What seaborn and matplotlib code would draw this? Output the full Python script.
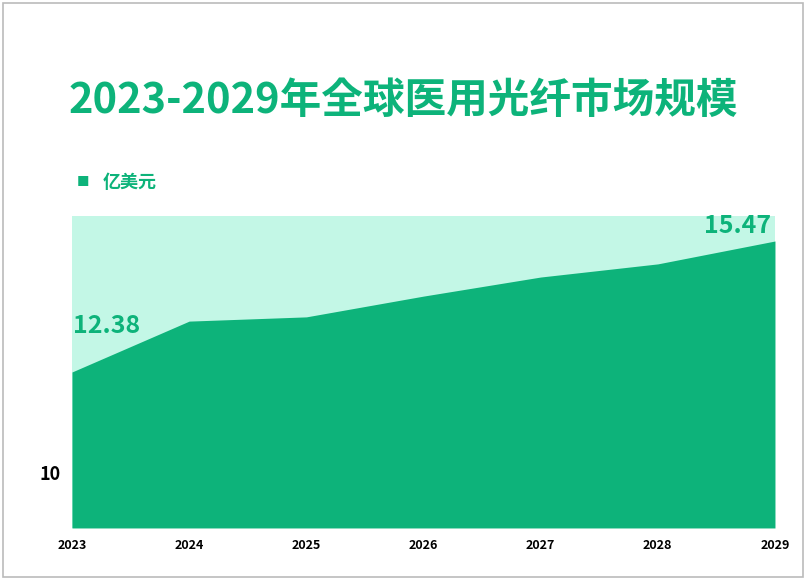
import matplotlib
matplotlib.use("Agg")
import matplotlib.pyplot as plt
import seaborn as sns
import pandas as pd

years = [2023, 2024, 2025, 2026, 2027, 2028, 2029]
values = [12.38, 13.58, 13.68, 14.17, 14.62, 14.93, 15.47]
green = "#0db37a"
mint = "#c3f7e6"

plt.rcParams["font.family"] = ["Noto Sans CJK JP", "Noto Sans CJK SC", "DejaVu Sans"]
df = pd.DataFrame({"year": years, "value": values})

fig = plt.figure(figsize=(8.06, 5.8), dpi=100)
ax = fig.add_axes([0.0893, 0.0897, 0.8722, 0.5379])
ax.set_facecolor(mint)
sns.lineplot(data=df, x="year", y="value", ax=ax, color=green, linewidth=0)
ax.fill_between(df["year"], df["value"], 8.7, color=green, linewidth=0)
ax.set_xlim(2023, 2029)
ax.set_ylim(8.7, 16.06)
ax.set_xticks(years)
ax.set_xticklabels([str(y) for y in years], fontsize=9, fontweight="bold")
ax.set_yticks([10])
ax.set_yticklabels(["10"], fontsize=13, fontweight="bold")
ax.tick_params(length=0, pad=8)
ax.set_xlabel("")
ax.set_ylabel("")
for s in ax.spines.values():
    s.set_visible(False)

ax.annotate(f"{values[0]:.2f}", (years[0], values[0]), xytext=(1, 28),
            textcoords="offset points", fontsize=18, fontweight="bold", color=green)
ax.annotate(f"{values[-1]:.2f}", (years[-1], values[-1]), xytext=(-3, 6),
            textcoords="offset points", fontsize=18, fontweight="bold", color=green, ha="right")

fig.text(0.5, 0.826, "2023-2029年全球医用光纤市场规模", ha="center", va="center",
         fontsize=30, fontweight="bold", color=green)
fig.text(0.095, 0.686, "■", ha="left", va="center", fontsize=9, color=green)
fig.text(0.127, 0.686, "亿美元", ha="left", va="center", fontsize=13, fontweight="bold", color=green)

fig.patches.append(plt.Rectangle((0.004, 0.005), 0.992, 0.99, transform=fig.transFigure,
                                 fill=False, edgecolor="#bbbbbb", linewidth=1.2))
fig.savefig("out.png", dpi=100)
